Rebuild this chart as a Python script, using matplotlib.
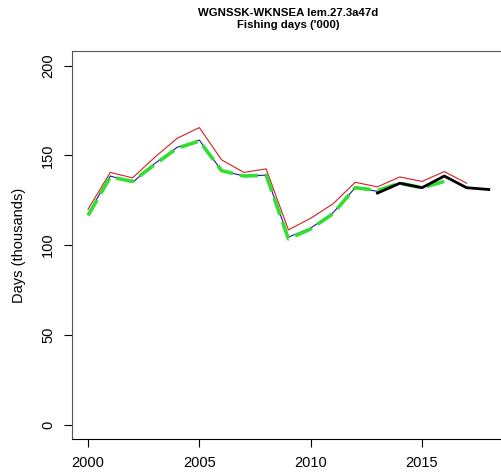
import matplotlib.pyplot as plt

plt.rcParams['font.family'] = ['Liberation Sans', 'DejaVu Sans']

# values (thousands of days)
years_red = list(range(2000, 2018))
red = [120, 140.5, 137.5, 149, 159.5, 165.5, 147.5, 140.5, 142.5,
       108.5, 115, 123, 135, 132.5, 138, 135.5, 141, 134.5]

years_blue = list(range(2000, 2014))
blue = [117.5, 138.5, 135, 145.5, 154.5, 158.5, 141.5, 138.5, 139,
        104.5, 109.5, 118, 132, 130]

years_green = list(range(2000, 2017))
green = [116.5, 138, 135.5, 145, 154, 158, 141.5, 138.5, 139,
         103.5, 109, 117.5, 132, 130.5, 134.5, 132, 135.5]

years_black = list(range(2013, 2019))
black = [129, 134.5, 132, 138.5, 132, 131]

fig = plt.figure(figsize=(5.01, 4.74), dpi=100)
ax = fig.add_axes([0.1437, 0.0738, 0.864, 0.818])

ax.plot(years_red, red, color='#d42020', lw=0.8)
ax.plot(years_blue, blue, color='#1a1a9a', lw=0.8)
ax.plot(years_green, green, color='#33dd33', lw=2.6, ls=(0, (5, 2)))
ax.plot(years_black, black, color='black', lw=2.0)

ax.set_xlim(1999.28, 2018.72)
ax.set_ylim(-8, 208)
ax.set_xticks([2000, 2005, 2010, 2015])
ax.set_yticks([0, 50, 100, 150, 200])
ax.tick_params(direction='out', length=6, width=0.8, labelsize=10.5, pad=6)
for lbl in ax.get_yticklabels():
    lbl.set_rotation(90)
    lbl.set_va('center')

for s in ax.spines.values():
    s.set_color('#555555')
ax.spines['bottom'].set_color('black')

ax.set_ylabel('Days (thousands)', fontsize=10.5, labelpad=11)
ax.set_title("WGNSSK-WKNSEA lem.27.3a47d\nFishing days ('000)",
             fontsize=8.2, fontweight='bold', pad=17, linespacing=1.2)

fig.savefig('out.png', dpi=100)
